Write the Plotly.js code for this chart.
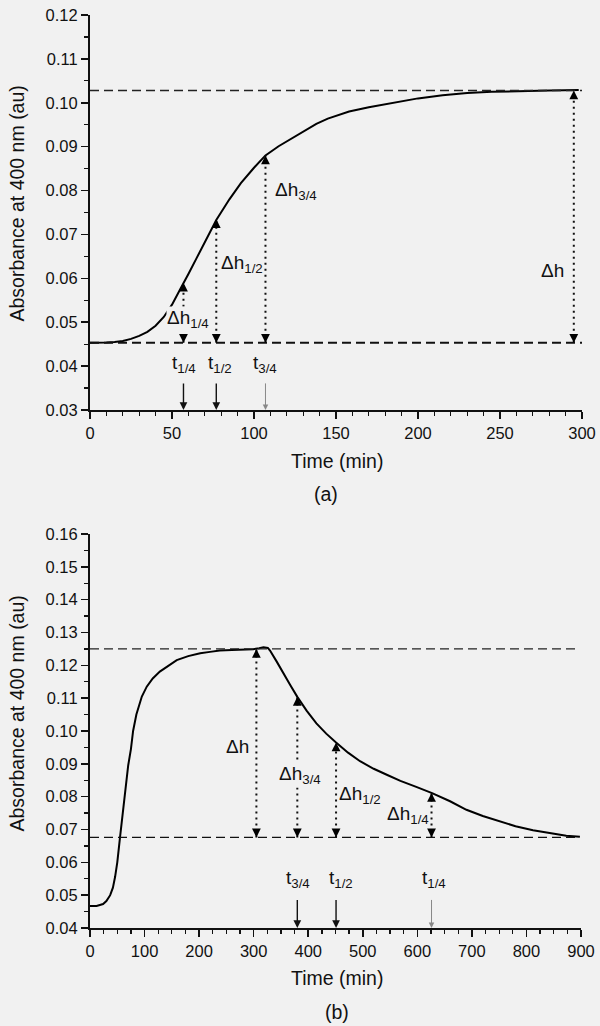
<!DOCTYPE html>
<html>
<head>
<meta charset="utf-8">
<script src="https://cdn.plot.ly/plotly-3.0.1.min.js"></script>
<style>html,body{margin:0;padding:0;background:#f1f1f1;}#chart{width:600px;height:1026px;}</style>
</head>
<body>
<div id="chart"></div>
<script>
// ---------- Panel (a) data ----------
const timeA = [0, 5, 10, 15, 20, 25, 30, 35, 40, 45, 50, 55, 57, 60, 65, 70, 77, 85, 92, 100, 107, 115, 122, 130, 138, 145, 158, 170, 180, 190, 200, 215, 230, 245, 260, 280, 298];
const absA  = [0.0453, 0.0453, 0.0454, 0.0455, 0.0457, 0.0462, 0.0469, 0.0478, 0.0492, 0.0512, 0.0540, 0.0575, 0.0588, 0.0610, 0.0646, 0.0682, 0.0733, 0.0780, 0.0817, 0.0852, 0.0880, 0.0901, 0.0916, 0.0935, 0.0952, 0.0964, 0.0980, 0.0990, 0.0997, 0.1004, 0.1010, 0.1017, 0.1022, 0.1025, 0.1027, 0.1028, 0.1029];
const baseA = 0.0453;
const plateauA = 0.1028;
const markTimeA = [57, 77, 107, 295];
const markAbsA  = [0.0590, 0.0735, 0.0880, 0.1028];
const markLabelA = ['Δh<sub>1/4</sub>', 'Δh<sub>1/2</sub>', 'Δh<sub>3/4</sub>', 'Δh'];
const tTimeA = [57, 77, 107];
const tLabelA = ['t<sub>1/4</sub>', 't<sub>1/2</sub>', 't<sub>3/4</sub>'];

// ---------- Panel (b) data ----------
const timeB = [0, 12, 24, 30, 37, 42, 46, 50, 55, 60, 64, 70, 75, 79, 85, 89, 95, 104, 115, 128, 145, 159, 180, 202, 220, 238, 260, 280, 299, 310, 318, 326, 330, 342, 354, 367, 380, 397, 415, 433, 451, 473, 495, 520, 545, 569, 598, 627, 660, 690, 720, 751, 780, 812, 842, 873, 898];
const absB  = [0.0467, 0.0467, 0.0473, 0.0482, 0.0500, 0.0523, 0.0556, 0.0600, 0.0676, 0.0745, 0.0810, 0.0895, 0.0945, 0.1000, 0.1050, 0.1074, 0.1105, 0.1135, 0.1160, 0.1181, 0.1201, 0.1216, 0.1228, 0.1237, 0.1241, 0.1245, 0.1247, 0.1248, 0.1249, 0.1252, 0.1255, 0.1253, 0.1245, 0.1212, 0.1176, 0.1140, 0.1104, 0.1062, 0.1023, 0.0992, 0.0965, 0.0934, 0.0908, 0.0885, 0.0866, 0.0848, 0.0830, 0.0811, 0.0786, 0.0760, 0.0741, 0.0724, 0.0710, 0.0698, 0.0689, 0.0681, 0.0678];
const baseB = 0.0676;
const plateauB = 0.1250;
const markTimeB = [305, 380, 451, 626];
const markAbsB  = [0.1250, 0.1104, 0.0965, 0.0811];
const markLabelB = ['Δh', 'Δh<sub>3/4</sub>', 'Δh<sub>1/2</sub>', 'Δh<sub>1/4</sub>'];
const tTimeB = [380, 451, 626];
const tLabelB = ['t<sub>3/4</sub>', 't<sub>1/2</sub>', 't<sub>1/4</sub>'];

// ---------- styling / layout helpers ----------
const BG = '#f1f1f1';
const FONT = 'Liberation Sans, Arial, sans-serif';
const LABEL_SIZE = 19;

const traces = [
  {x: timeA, y: absA, xaxis: 'x', yaxis: 'y', mode: 'lines', line: {color: '#000', width: 2}, hoverinfo: 'skip'},
  {x: timeB, y: absB, xaxis: 'x2', yaxis: 'y2', mode: 'lines', line: {color: '#000', width: 2}, hoverinfo: 'skip'}
];

const shapes = [];
const annotations = [];

function panel(xr, yr, xEnd, base, plateau, mT, mA, mLab, labPos, tT, tLab, tPos, tArrow, grayIdx, dashW) {
  shapes.push({type: 'line', xref: xr, yref: yr, x0: 0, x1: xEnd, y0: base, y1: base, line: {color: '#111', width: dashW[0], dash: '9px,5px'}});
  shapes.push({type: 'line', xref: xr, yref: yr, x0: 0, x1: xEnd, y0: plateau, y1: plateau, line: {color: '#222', width: dashW[1], dash: '9px,5px'}});
  mT.forEach((t, i) => {
    shapes.push({type: 'line', xref: xr, yref: yr, x0: t, x1: t, y0: base, y1: mA[i], line: {color: '#111', width: 2, dash: '2px,4px'}});
    annotations.push({xref: xr, yref: yr, x: t, y: mA[i], ax: 0, ay: 8, text: '', showarrow: true, arrowhead: 2, arrowsize: 1.1, arrowwidth: 1.6, arrowcolor: '#000', standoff: 0});
    annotations.push({xref: xr, yref: yr, x: t, y: base, ax: 0, ay: -8, text: '', showarrow: true, arrowhead: 2, arrowsize: 1.1, arrowwidth: 1.6, arrowcolor: '#000', standoff: 0});
  });
  mLab.forEach((lab, i) => {
    const p = labPos[i];
    annotations.push({xref: xr, yref: yr, x: p[0], y: p[1], xanchor: p[2], yanchor: 'middle', text: lab, showarrow: false,
      font: {family: FONT, size: LABEL_SIZE, color: '#111'}, bgcolor: p[3] ? BG : 'rgba(0,0,0,0)', borderpad: 0});
  });
  tT.forEach((t, i) => {
    const gray = i === grayIdx;
    annotations.push({xref: xr, yref: yr, x: t, y: tArrow[0], axref: xr, ayref: yr, ax: t, ay: tArrow[1], text: '', showarrow: true,
      arrowhead: 2, arrowsize: 1.1, arrowwidth: gray ? 1 : 1.4, arrowcolor: gray ? '#888' : '#111', standoff: 0});
    annotations.push({xref: xr, yref: yr, x: tPos[i], y: tArrow[2], xanchor: 'center', yanchor: 'middle', text: tLab[i], showarrow: false,
      font: {family: FONT, size: LABEL_SIZE, color: '#111'}});
  });
}

panel('x', 'y', 300, baseA, plateauA, markTimeA, markAbsA, markLabelA,
  [[59.5, 0.0508, 'center', true], [79.3, 0.0632, 'left', false], [112, 0.0799, 'left', false], [289.6, 0.0617, 'right', false]],
  tTimeA, tLabelA, [57.6, 79, 107], [0.03, 0.0364, 0.0405], 2, [2, 1.5]);

panel('x2', 'y2', 895, baseB, plateauB, markTimeB, markAbsB, markLabelB,
  [[293, 0.0952, 'right', false], [385, 0.0866, 'center', true], [455, 0.0806, 'left', false], [623, 0.0744, 'right', false]],
  tTimeB, tLabelB, [382, 460, 631], [0.04, 0.049, 0.0548], 2, [1.4, 1.4]);

// axis titles and panel letters
const titleFont = {family: FONT, size: 19.5, color: '#111'};
annotations.push({xref: 'paper', yref: 'paper', x: 16.5/600, y: 1 - 204/1026, text: 'Absorbance at 400 nm (au)', textangle: -90, showarrow: false, font: titleFont, xanchor: 'center', yanchor: 'middle'});
annotations.push({xref: 'paper', yref: 'paper', x: 16.5/600, y: 1 - 714/1026, text: 'Absorbance at 400 nm (au)', textangle: -90, showarrow: false, font: titleFont, xanchor: 'center', yanchor: 'middle'});
annotations.push({xref: 'paper', yref: 'paper', x: 337/600, y: 1 - 461/1026, text: 'Time (min)', showarrow: false, font: titleFont, xanchor: 'center', yanchor: 'middle'});
annotations.push({xref: 'paper', yref: 'paper', x: 337/600, y: 1 - 978/1026, text: 'Time (min)', showarrow: false, font: titleFont, xanchor: 'center', yanchor: 'middle'});
annotations.push({xref: 'paper', yref: 'paper', x: 326/600, y: 1 - 494/1026, text: '(a)', showarrow: false, font: titleFont, xanchor: 'center', yanchor: 'middle'});
annotations.push({xref: 'paper', yref: 'paper', x: 337/600, y: 1 - 1012/1026, text: '(b)', showarrow: false, font: titleFont, xanchor: 'center', yanchor: 'middle'});

const axCommon = {
  showline: true, linecolor: '#111', linewidth: 2, ticks: 'outside', ticklen: 7, tickwidth: 1.5, tickcolor: '#111',
  showgrid: false, zeroline: false, tickfont: {family: FONT, size: 16.5, color: '#111'}, fixedrange: true
};

const layout = {
  width: 600, height: 1026,
  margin: {l: 0, r: 0, t: 0, b: 0},
  paper_bgcolor: BG, plot_bgcolor: BG,
  showlegend: false,
  xaxis: Object.assign({}, axCommon, {domain: [90/600, 582/600], anchor: 'y', range: [0, 300], tick0: 0, dtick: 50,
    minor: {dtick: 10, ticks: 'outside', ticklen: 4, tickwidth: 1.3, tickcolor: '#111'}}),
  yaxis: Object.assign({}, axCommon, {domain: [1 - 410/1026, 1 - 15/1026], anchor: 'x', range: [0.03, 0.12], tick0: 0.03, dtick: 0.01, tickformat: '.2f',
    minor: {dtick: 0.005, ticks: 'outside', ticklen: 4, tickwidth: 1.3, tickcolor: '#111'}}),
  xaxis2: Object.assign({}, axCommon, {domain: [90/600, 581/600], anchor: 'y2', range: [0, 900], tick0: 0, dtick: 100,
    minor: {dtick: 25, ticks: 'outside', ticklen: 4, tickwidth: 1.3, tickcolor: '#111'}}),
  yaxis2: Object.assign({}, axCommon, {domain: [1 - 928/1026, 1 - 534/1026], anchor: 'x2', range: [0.04, 0.16], tick0: 0.04, dtick: 0.01, tickformat: '.2f',
    minor: {dtick: 0.005, ticks: 'outside', ticklen: 4, tickwidth: 1.3, tickcolor: '#111'}}),
  shapes: shapes,
  annotations: annotations
};

Plotly.newPlot('chart', traces, layout, {displayModeBar: false, staticPlot: true});
</script>
</body>
</html>
